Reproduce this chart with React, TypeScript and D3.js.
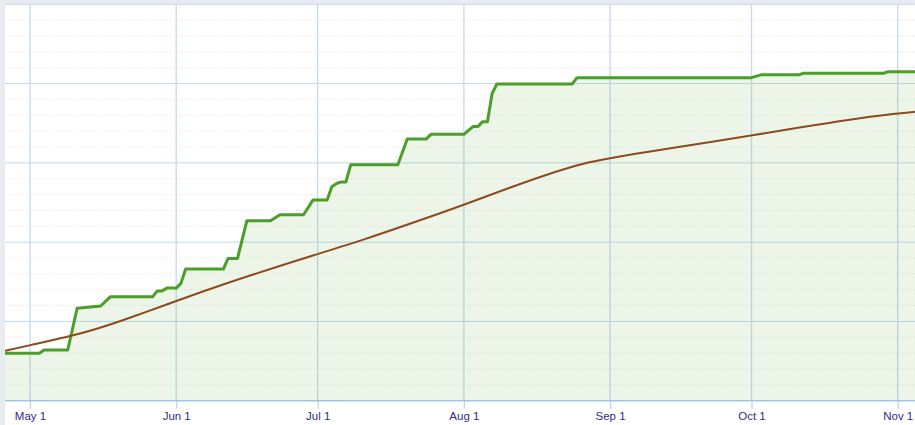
import React, { useEffect, useRef } from "react";
import * as d3 from "d3";

// cumulative (green, stepped) series
const greenDates = ["2013-04-25","2013-05-03","2013-05-04","2013-05-09","2013-05-11","2013-05-16","2013-05-18","2013-05-27","2013-05-28","2013-05-29","2013-05-30","2013-06-01","2013-06-02","2013-06-03","2013-06-11","2013-06-12","2013-06-14","2013-06-16","2013-06-21","2013-06-23","2013-06-28","2013-06-30","2013-07-03","2013-07-04","2013-07-05","2013-07-06","2013-07-07","2013-07-08","2013-07-18","2013-07-20","2013-07-24","2013-07-25","2013-08-01","2013-08-03","2013-08-04","2013-08-05","2013-08-06","2013-08-07","2013-08-08","2013-08-24","2013-08-25","2013-10-01","2013-10-03","2013-10-11","2013-10-12","2013-10-29","2013-10-30","2013-11-05"];
const greenValues = [12.0,12.0,12.8,12.8,23.3,23.9,26.2,26.2,27.7,27.7,28.4,28.4,29.6,33.2,33.2,35.9,35.9,45.4,45.4,46.9,46.9,50.6,50.6,54.0,54.8,55.2,55.2,59.5,59.5,66.0,66.0,67.2,67.2,69.2,69.2,70.4,70.4,77.5,79.9,79.9,81.5,81.5,82.2,82.2,82.6,82.6,83.0,83.0];

// smooth (brown) series
const brownDates = ["2013-04-25","2013-05-01","2013-05-09","2013-05-15","2013-05-22","2013-05-30","2013-06-06","2013-06-16","2013-07-01","2013-07-11","2013-07-21","2013-08-01","2013-08-11","2013-08-21","2013-08-26","2013-09-01","2013-09-07","2013-09-24","2013-10-01","2013-10-11","2013-10-22","2013-11-01","2013-11-05"];
const brownValues = [12.4,14.0,16.1,18.0,20.8,24.3,27.3,31.4,37.0,40.7,44.8,49.4,53.9,58.0,59.8,61.2,62.4,65.6,66.9,68.9,71.0,72.5,72.9];

const monthTicks = ["2013-05-01","2013-06-01","2013-07-01","2013-08-01","2013-09-01","2013-10-01","2013-11-01"];
const monthLabels = ["May 1","Jun 1","Jul 1","Aug 1","Sep 1","Oct 1","Nov 1"];
const yMajor = [0, 20, 40, 60, 80, 100];

const parse = d3.timeParse("%Y-%m-%d");

export default function App() {
  const ref = useRef<SVGSVGElement>(null);

  useEffect(() => {
    const width = 915;
    const height = 425;
    const left = 5;
    const top = 4.3;
    const bottom = 400.7;

    const svg = d3.select(ref.current);
    svg.selectAll("*").remove();

    const x = d3.scaleTime()
      .domain([parse(monthTicks[0])!, parse(monthTicks[monthTicks.length - 1])!])
      .range([30, 897.7]);
    const y = d3.scaleLinear().domain([0, 100]).range([bottom, top]);

    const green = greenDates.map((d, i) => ({ date: parse(d)!, value: greenValues[i] }));
    const brown = brownDates.map((d, i) => ({ date: parse(d)!, value: brownValues[i] }));

    svg.append("rect").attr("width", width).attr("height", height).attr("fill", "#e8ecf0");
    svg.append("rect")
      .attr("x", left).attr("y", top)
      .attr("width", width - left).attr("height", height - top)
      .attr("fill", "#ffffff");

    svg.append("clipPath").attr("id", "plot")
      .append("rect")
      .attr("x", left).attr("y", 0)
      .attr("width", width - left).attr("height", bottom);

    // minor dotted lines
    const minor = d3.range(4, 100, 4).filter(v => v % 20 !== 0);
    svg.append("g").selectAll("line").data(minor).enter().append("line")
      .attr("x1", left + 3).attr("x2", width)
      .attr("y1", d => y(d)).attr("y2", d => y(d))
      .attr("stroke", "#e2e2e2")
      .attr("stroke-dasharray", "1,2");

    // major horizontal
    svg.append("g").selectAll("line").data(yMajor.slice(1)).enter().append("line")
      .attr("x1", left).attr("x2", width)
      .attr("y1", d => y(d)).attr("y2", d => y(d))
      .attr("stroke", "#c0d8ee");

    // vertical month lines
    svg.append("g").selectAll("line").data(monthTicks).enter().append("line")
      .attr("x1", d => x(parse(d)!)).attr("x2", d => x(parse(d)!))
      .attr("y1", top).attr("y2", bottom)
      .attr("stroke", "#c4daef")
      .attr("stroke-width", 1.3);

    const area = d3.area<{ date: Date; value: number }>()
      .x(d => x(d.date))
      .y0(y(0))
      .y1(d => y(d.value));

    svg.append("path")
      .datum(green)
      .attr("clip-path", "url(#plot)")
      .attr("d", area)
      .attr("fill", "rgba(74,160,44,0.1)");

    // x axis
    const axis = svg.append("g")
      .attr("transform", `translate(0,${bottom})`)
      .call(
        d3.axisBottom(x)
          .tickValues(monthTicks.map(d => parse(d)!))
          .tickFormat((_d, i) => monthLabels[i])
          .tickSize(8)
          .tickSizeOuter(0)
          .tickPadding(3)
      );
    axis.select(".domain").remove();
    axis.selectAll(".tick line").attr("stroke", "#c6d2ec").attr("stroke-width", 1.3);
    axis.selectAll(".tick text")
      .attr("fill", "#34288c")
      .style("font-family", "'Liberation Sans', Arial, sans-serif")
      .style("font-size", "11.5px");

    svg.append("line")
      .attr("x1", left).attr("x2", width)
      .attr("y1", y(0)).attr("y2", y(0))
      .attr("stroke", "#9cc8e6")
      .attr("stroke-width", 1.6);

    const line = d3.line<{ date: Date; value: number }>()
      .x(d => x(d.date))
      .y(d => y(d.value));

    svg.append("path")
      .datum(green)
      .attr("clip-path", "url(#plot)")
      .attr("d", line)
      .attr("fill", "none")
      .attr("stroke", "#4c9e2a")
      .attr("stroke-width", 3)
      .attr("stroke-linejoin", "round");

    const smooth = d3.line<{ date: Date; value: number }>()
      .x(d => x(d.date))
      .y(d => y(d.value))
      .curve(d3.curveBasis);

    svg.append("path")
      .datum(brown)
      .attr("clip-path", "url(#plot)")
      .attr("d", smooth)
      .attr("fill", "none")
      .attr("stroke", "#8c4a1e")
      .attr("stroke-width", 2);
  }, []);

  return (
    <svg
      ref={ref}
      width={915}
      height={425}
      style={{ position: "absolute", left: 0, top: 0, display: "block" }}
    />
  );
}
